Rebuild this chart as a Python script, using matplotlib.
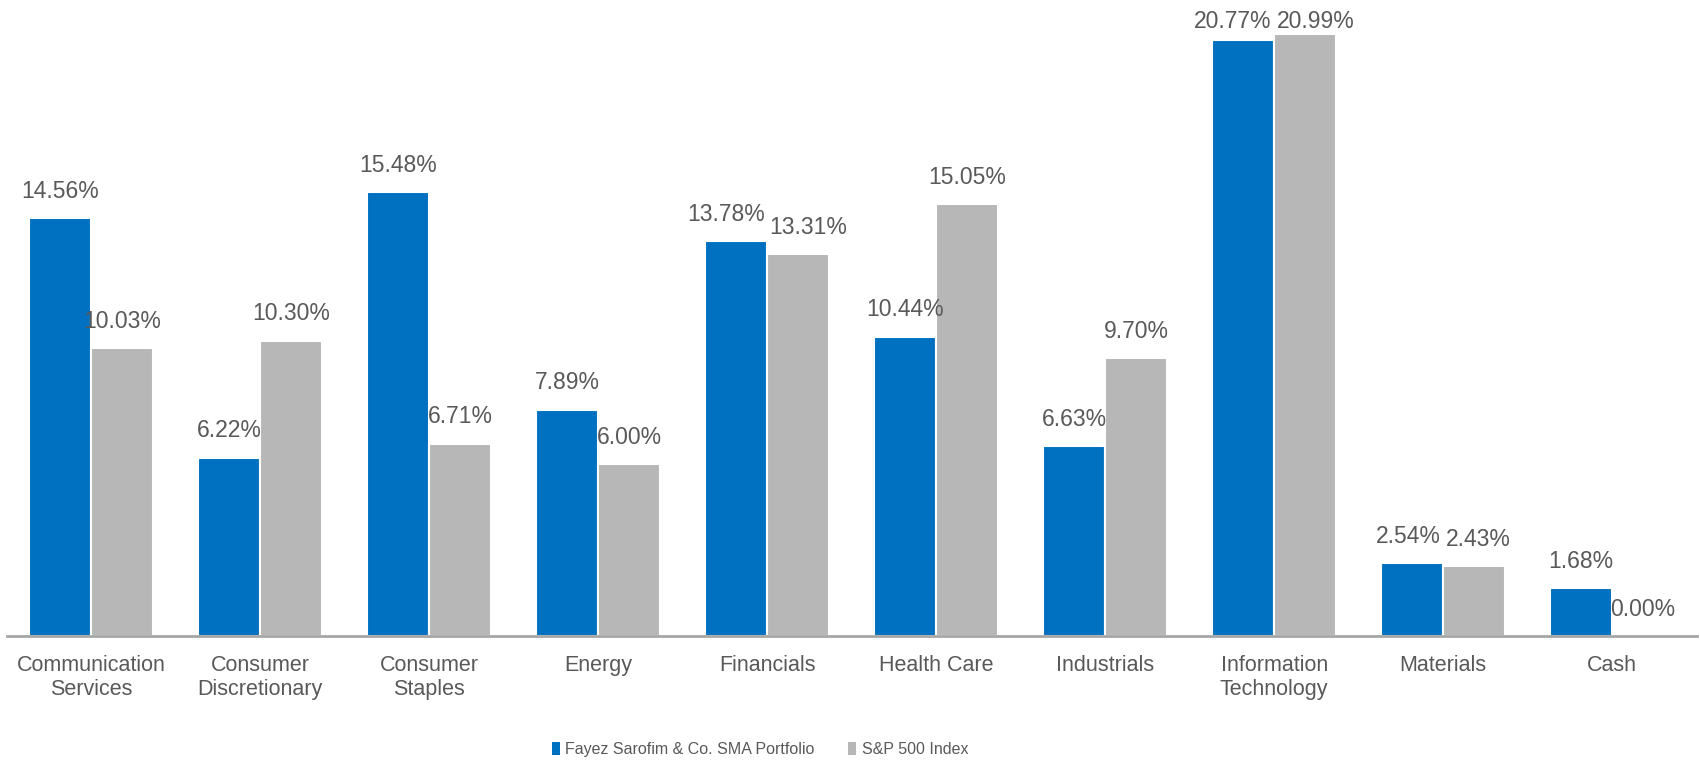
import numpy as np
import matplotlib.pyplot as plt
from matplotlib.patches import Patch

# Sector weights (%)
sectors = ["Communication\nServices", "Consumer\nDiscretionary", "Consumer\nStaples",
           "Energy", "Financials", "Health Care", "Industrials",
           "Information\nTechnology", "Materials", "Cash"]
portfolio = [14.56, 6.22, 15.48, 7.89, 13.78, 10.44, 6.63, 20.77, 2.54, 1.68]
sp500 = [10.03, 10.30, 6.71, 6.00, 13.31, 15.05, 9.70, 20.99, 2.43, 0.00]

series_names = ["Fayez Sarofim & Co. SMA Portfolio", "S&P 500 Index"]
colors = ["#0070C0", "#B7B7B7"]
text_color = "#595959"

plt.rcParams['font.family'] = ['Liberation Sans', 'DejaVu Sans']

fig = plt.figure(figsize=(17, 7.61), dpi=100)
ax = fig.add_axes([0.004, 0.1643, 0.994, 0.829])

x = np.arange(len(sectors))
w = 0.367
labels = []
for i, (vals, c) in enumerate(zip([portfolio, sp500], colors)):
    pos = x + (i - 0.5) * w
    ax.bar(pos, vals, width=w, color=c, edgecolor="white", linewidth=1.5)
    row = []
    for xp, v in zip(pos, vals):
        t = ax.annotate(f"{v:.2f}%", (xp, v), xytext=(0, 11), textcoords="offset points",
                        ha="center", va="bottom", fontsize=16.5, color=text_color)
        row.append(t)
    labels.append(row)

ax.set_xlim(-0.5, len(sectors) - 0.5)
ax.set_ylim(0, 22)
ax.set_xticks(x)
ax.set_xticklabels(sectors, fontsize=15.5, color=text_color, linespacing=1.15)
ax.tick_params(axis="x", length=0, pad=14)
ax.set_yticks([])
for s in ["top", "right", "left"]:
    ax.spines[s].set_visible(False)
ax.spines["bottom"].set_color("#A6A6A6")
ax.spines["bottom"].set_linewidth(2)

# push apart value labels that collide, keep them inside the figure
fig.canvas.draw()
r = fig.canvas.get_renderer()
px2pt = 72 / fig.dpi
for t1, t2 in zip(labels[0], labels[1]):
    b1 = t1.get_window_extent(r)
    b2 = t2.get_window_extent(r)
    if b1.overlaps(b2):
        ov = (b1.x1 - b2.x0 + 5) * px2pt
        t1.xyann = (t1.xyann[0] - ov / 2, t1.xyann[1])
        t2.xyann = (t2.xyann[0] + ov / 2, t2.xyann[1])
for t in labels[0] + labels[1]:
    b = t.get_window_extent(r)
    over = b.y1 - (fig.bbox.height - 10)
    if over > 0:
        t.xyann = (t.xyann[0], t.xyann[1] - over * px2pt)

handles = [Patch(facecolor=c, edgecolor="none") for c in colors]
fig.legend(handles, series_names, loc="center", bbox_to_anchor=(0.447, 0.015),
           ncol=2, frameon=False, handlelength=0.5, handleheight=0.8,
           handletextpad=0.35, columnspacing=2.1, labelcolor=text_color,
           fontsize=11.5)

fig.savefig("out.png", dpi=100)
